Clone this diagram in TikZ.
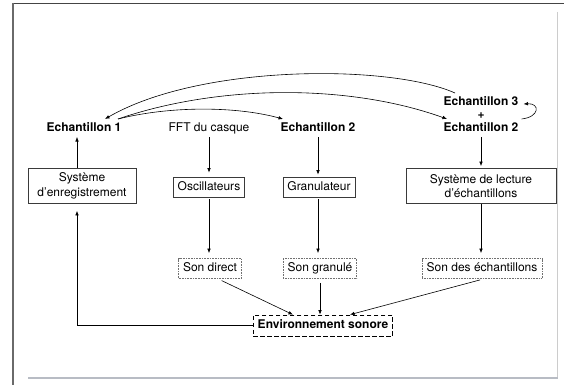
\documentclass[tikz,border=0pt]{standalone}
\usepackage{fontspec}
\setmainfont{TeX Gyre Heros}
\usetikzlibrary{arrows.meta,calc}
\definecolor{boxgray}{HTML}{3A3A3A}
\definecolor{dotgray}{HTML}{707070}
\definecolor{frametop}{HTML}{444444}
\definecolor{frameleft}{HTML}{6A6A6A}
\definecolor{frameright}{HTML}{CCCCCC}
\definecolor{framebottom}{HTML}{B8BCC4}
\begin{document}
\begin{tikzpicture}[x=1pt,y=-1pt,
  font=\fontsize{12}{14.4}\selectfont,
  lbl/.style={inner sep=3pt, text height=9pt, text depth=2.6pt},
  blbl/.style={lbl, font=\fontsize{12}{14.4}\selectfont\bfseries},
  solidbox/.style={draw=boxgray, line width=0.7pt, inner xsep=4.5pt, inner ysep=4pt, text height=9pt, text depth=3pt},
  twobox/.style={draw=boxgray, line width=0.7pt, align=center, minimum height=35pt, inner xsep=4.5pt},
  dotbox/.style={draw=dotgray, dash pattern=on 0.8pt off 0.8pt, line width=0.7pt, inner xsep=4.5pt, inner ysep=4pt, text height=9pt, text depth=3pt},
  envbox/.style={draw=black, dash pattern=on 4.5pt off 2.5pt, line width=0.7pt, inner xsep=4.5pt, inner ysep=4.5pt, text height=9pt, text depth=3pt, font=\fontsize{12}{14.4}\selectfont\bfseries},
  arr/.style={-{Latex[length=4.5pt,width=3.6pt]}, line width=0.6pt, draw=black},
]
\useasboundingbox (0,0) rectangle (564,385);
% frame
\draw[line width=1.4pt, draw=frametop] (12,3.5) -- (564,3.5);
\draw[line width=2pt, draw=frameleft] (13,3) -- (13,385);
\draw[line width=1pt, draw=frameright] (557,12) -- (557,378);
\draw[line width=2pt, draw=framebottom] (28,378) -- (558,378);

% top row
\node[blbl] (e1) at (84,128) {Echantillon 1};
\node[lbl] (fft) at (209,128) {FFT du casque};
\node[blbl] (e2) at (318,128) {Echantillon 2};
\node[blbl] (e3) at (481,102) {Echantillon 3};
\node[blbl, inner sep=0pt] (plus) at (481,115) {+};
\node[blbl] (e2b) at (481,128) {Echantillon 2};

% boxes
\node[twobox, minimum width=108pt] (rec) at (82,186) {Système\\d’enregistrement};
\node[solidbox] (osc) at (209,187) {Oscillateurs};
\node[solidbox] (gran) at (319,187) {Granulateur};
\node[twobox, minimum width=150pt] (lect) at (481,186) {Système de lecture\\d’échantillons};

\node[dotbox] (sd) at (210,268.5) {Son direct};
\node[dotbox] (sg) at (320,268.5) {Son granulé};
\node[dotbox] (se) at (482,268.5) {Son des échantillons};

\node[envbox] (env) at (323,325.5) {Environnement sonore};

\coordinate (c1) at (77,0);

% vertical arrows
\draw[arr] (rec.north -| c1) -- (e1.south -| c1);
\draw[arr, shorten >=4pt] (fft.south) -- (fft.south |- osc.north);
\draw[arr, shorten <=2pt, shorten >=5pt] (osc.south) -- (osc.south |- sd.north);
\draw[arr, shorten >=2pt] (e2.south) -- (e2.south |- gran.north);
\draw[arr, shorten <=2pt, shorten >=5pt] (gran.south -| e2) -- (sg.north -| e2);
\draw[arr, shorten >=2pt] (e2b.south) -- (e2b.south |- lect.north);
\draw[arr, shorten >=5pt] (lect.south) -- (lect.south |- se.north);

% to environment
\draw[arr, shorten <=4pt] ([xshift=8pt]sd.south) -- ([xshift=-30pt]env.north);
\draw[arr, shorten <=4pt] (sg.south) -- (sg.south |- env.north);
\draw[arr, shorten <=4pt] ([xshift=2pt]se.south) -- ([xshift=27pt]env.north);

% feedback
\draw[arr, shorten >=7pt] (env.west) -| (rec.south -| c1);

% curves
\draw[arr] ([xshift=-26pt]e3.north) .. controls (390,64) and (200,64) .. ([xshift=21pt]e1.north);
\draw[arr] ([xshift=34pt]e1.north) .. controls (220,84) and (350,84) .. ([xshift=-34pt]e2b.north);
\draw[arr] ([xshift=34pt]e1.north) .. controls (170,106) and (235,106) .. ([xshift=-35pt]e2.north);
\draw[arr] (e2b.north east) .. controls (540,117) and (540,103) .. ([xshift=2pt,yshift=-2pt]e3.east);
\end{tikzpicture}
\end{document}
